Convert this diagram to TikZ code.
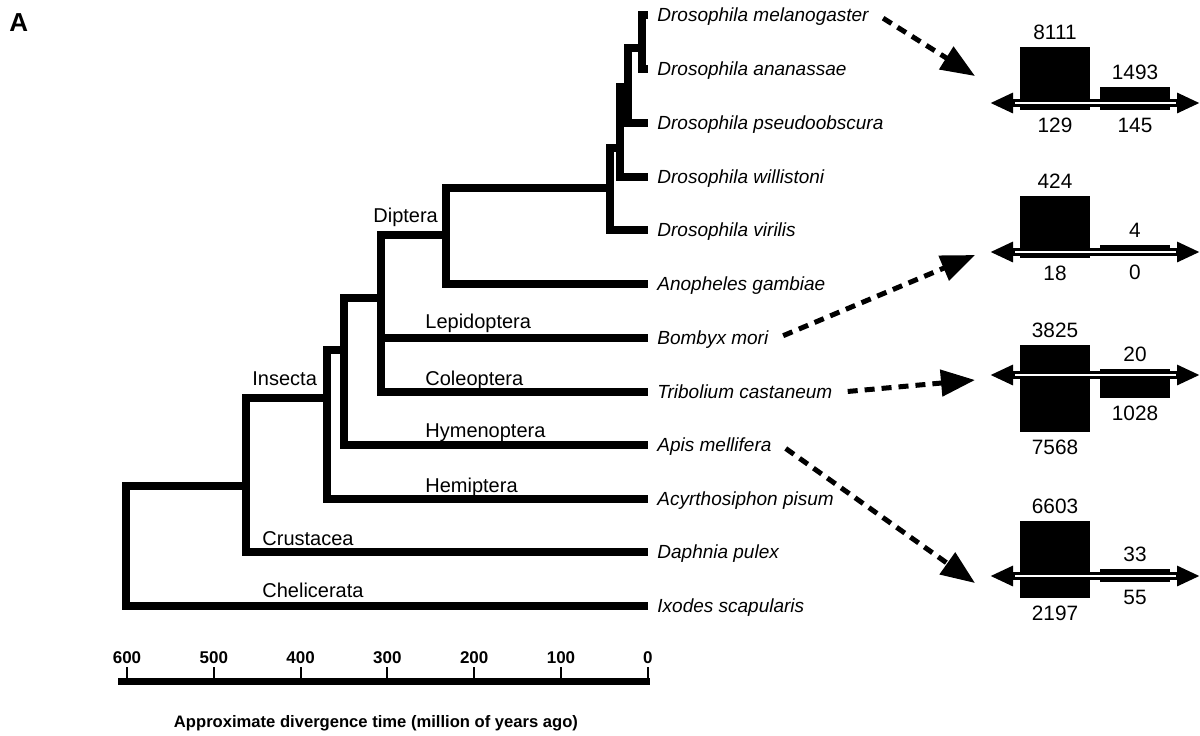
\documentclass[tikz,border=0pt]{standalone}
\usepackage{fontspec}
\setmainfont{Liberation Sans}
\usetikzlibrary{arrows.meta}
\newcommand{\bars}[9]{%
  \fill (1020,#1) rectangle (1090,{#1-#2});
  \fill (1100,#1) rectangle (1170,{#1-#3});
  \fill (1020,#1) rectangle (1090,{#1+#4});
  \fill (1100,#1) rectangle (1170,{#1+#5});
  \draw[line width=4pt,{Triangle[length=11.5pt,width=9.5pt]}-{Triangle[length=11.5pt,width=9.5pt]}] (990,#1) -- (1200,#1);
  \draw[white,line width=1pt] (1015,#1) -- (1176,#1);
  \node[barlabel,anchor=south] (v#6) at (1055,{#1-#2-7}) {#6};
  \node[barlabel,anchor=south] (v#7) at (1135,{#1-#3-7}) {#7};
  \node[barlabel,anchor=north] (v#8) at (1055,{#1+max(#4,5)+8}) {#8};
  \node[barlabel,anchor=north] (v#9) at (1135,{#1+max(#5,5)+8}) {#9};
}

\begin{document}
\begin{tikzpicture}[x=0.5pt,y=-0.5pt,
  branch/.style={line width=3.7pt,line join=miter},
  leaf/.style={anchor=west,inner xsep=4.5pt,inner ysep=0pt,text height=6.8pt,text depth=0pt,font=\fontsize{9.5}{11}\selectfont\itshape},
  clade/.style={anchor=base west,inner sep=0pt,font=\fontsize{10}{12}\selectfont},
  barlabel/.style={inner sep=0pt,font=\fontsize{10.4}{12}\selectfont},
  tick/.style={anchor=south,inner sep=1.2pt,font=\bfseries\fontsize{8.5}{10}\selectfont},
  link/.style={line width=2.5pt,dash pattern=on 5pt off 3.5pt,-{Triangle[length=17pt,width=13pt]},shorten <=3pt}]
  \useasboundingbox (0,0) rectangle (1200,735);
  \node[anchor=base west,inner sep=0pt,font=\bfseries\fontsize{13}{15}\selectfont] (panel) at (9,31) {A};

  \node[leaf] (dmel) at (648,15) {Drosophila melanogaster};
  \node[leaf] (dana) at (648,69) {Drosophila ananassae};
  \node[leaf] (dpse) at (648,123) {Drosophila pseudoobscura};
  \node[leaf] (dwil) at (648,177) {Drosophila willistoni};
  \node[leaf] (dvir) at (648,230) {Drosophila virilis};
  \node[leaf] (agam) at (648,284) {Anopheles gambiae};
  \node[leaf] (bmor) at (648,338) {Bombyx mori};
  \node[leaf] (tcas) at (648,392) {Tribolium castaneum};
  \node[leaf] (amel) at (648,445) {Apis mellifera};
  \node[leaf] (apis) at (648,499) {Acyrthosiphon pisum};
  \node[leaf] (dpul) at (648,552) {Daphnia pulex};
  \node[leaf] (isca) at (648,606) {Ixodes scapularis};

  \coordinate (dm) at (642,48);
  \coordinate (dc) at (628,87);
  \coordinate (db) at (620,148);
  \coordinate (dros) at (610,188);
  \coordinate (dipt) at (446,235);
  \coordinate (holo) at (381,298);
  \coordinate (endo) at (344,350);
  \coordinate (ins) at (327,398);
  \coordinate (panc) at (246,486);
  \coordinate (arth) at (126,546);

  \draw[branch] (dm) |- (dmel.west) (dm) |- (dana.west);
  \draw[branch] (dc) |- (dm) (dc) |- (dpse.west);
  \draw[branch] (db) |- (dc) (db) |- (dwil.west);
  \draw[branch] (dros) |- (db) (dros) |- (dvir.west);
  \draw[branch] (dipt) |- (dros) (dipt) |- (agam.west);
  \draw[branch] (holo) |- (dipt) (holo) |- (bmor.west) (holo) |- (tcas.west);
  \draw[branch] (endo) |- (holo) (endo) |- (amel.west);
  \draw[branch] (ins) |- (endo) (ins) |- (apis.west);
  \draw[branch] (panc) |- (ins) (panc) |- (dpul.west);
  \draw[branch] (arth) |- (panc) (arth) |- (isca.west);

  \node[clade] (diptera) at (373,222) {Diptera};
  \node[clade] (lepi) at (425,328) {Lepidoptera};
  \node[clade] (coleo) at (425,385) {Coleoptera};
  \node[clade] (hymen) at (425,437) {Hymenoptera};
  \node[clade] (hemi) at (425,492) {Hemiptera};
  \node[clade] (insecta) at (252,385) {Insecta};
  \node[clade] (crust) at (262,545) {Crustacea};
  \node[clade] (chel) at (262,597) {Chelicerata};

  \draw[line width=3.5pt] (118,681) -- (650,681);
  \draw[line width=1pt]
    (127,681) -- (127,667) node[tick] (t600) {600}
    (213.8,681) -- (213.8,667) node[tick] (t500) {500}
    (300.6,681) -- (300.6,667) node[tick] (t400) {400}
    (387.4,681) -- (387.4,667) node[tick] (t300) {300}
    (474.2,681) -- (474.2,667) node[tick] (t200) {200}
    (561,681) -- (561,667) node[tick] (t100) {100}
    (647.8,681) -- (647.8,667) node[tick] (t0) {0};
  \node[anchor=base,inner sep=0pt,font=\bfseries\fontsize{8.3}{10}\selectfont] (xtitle) at (376,727) {Approximate divergence time (million of years ago)};

  \bars{103}{56}{16}{7}{7}{8111}{1493}{129}{145}
  \bars{252}{56}{7}{6}{0}{424}{4}{18}{0}
  \bars{375}{30}{6}{57}{23}{3825}{20}{7568}{1028}
  \bars{576}{55}{7}{22}{6}{6603}{33}{2197}{55}

  \coordinate (tip1) at (975,76);
  \coordinate (tip2) at (975,255);
  \coordinate (tip3) at (975,380);
  \coordinate (tip4) at (975,583);
  \draw[link] (dmel.east) -- (tip1);
  \draw[link] (bmor.east) -- (tip2);
  \draw[link] (tcas.east) -- (tip3);
  \draw[link] (amel.east) -- (tip4);
\end{tikzpicture}
\end{document}
